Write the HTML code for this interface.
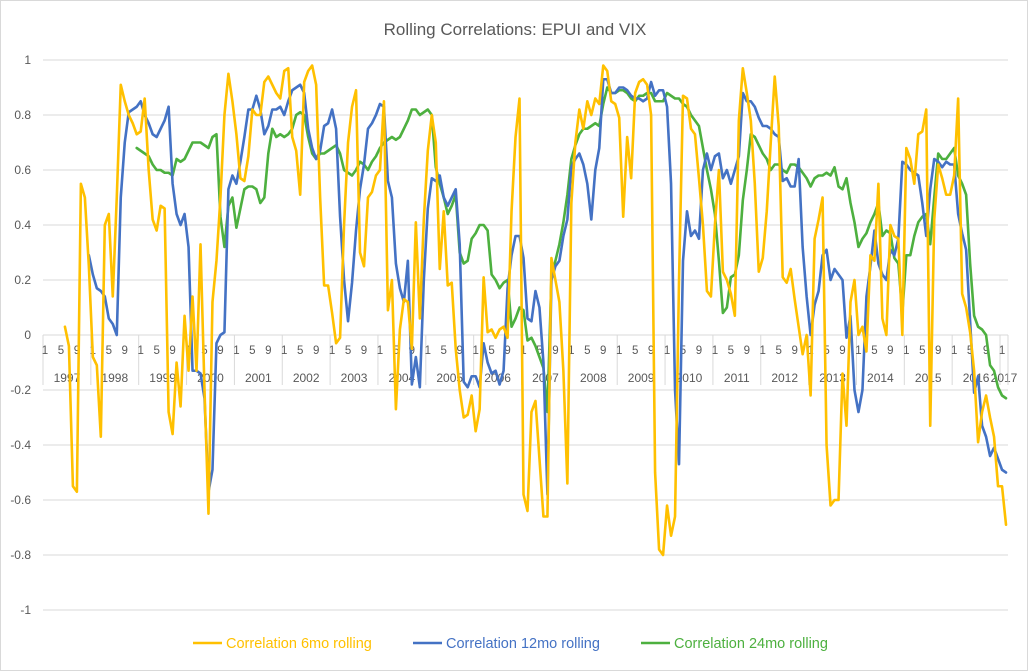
<!DOCTYPE html>
<html><head><meta charset="utf-8"><style>
html,body{margin:0;padding:0;background:#fff}
svg{display:block;font-family:"Liberation Sans",sans-serif}
</style></head><body>
<svg id="chart" width="1029" height="672" xmlns="http://www.w3.org/2000/svg">
<rect x="0.5" y="0.5" width="1027" height="670" fill="#fff" stroke="#d9d9d9"/>
<text x="515" y="35" text-anchor="middle" font-size="17" fill="#595959">Rolling Correlations: EPUI and VIX</text>
<g id="grid"></g><g id="yticks"></g><g id="xaxis"></g><g id="series"></g>
<g>
<line x1="193" y1="643" x2="222" y2="643" stroke="#FFC000" stroke-width="2.5"/>
<text x="226" y="648" font-size="14.5" fill="#FFC000">Correlation 6mo rolling</text>
<line x1="413" y1="643" x2="442" y2="643" stroke="#4472C4" stroke-width="2.5"/>
<text x="446" y="648" font-size="14.5" fill="#4472C4">Correlation 12mo rolling</text>
<line x1="641" y1="643" x2="670" y2="643" stroke="#4DB03F" stroke-width="2.5"/>
<text x="674" y="648" font-size="14.5" fill="#4DB03F">Correlation 24mo rolling</text>
</g>
</svg>
<script>
const years = [1997,1998,1999,2000,2001,2002,2003,2004,2005,2006,2007,2008,2009,2010,2011,2012,2013,2014,2015,2016,2017];
const yTicks = [1,0.8,0.6,0.4,0.2,0,-0.2,-0.4,-0.6,-0.8,-1];
const yTickLabels = ["1","0.8","0.6","0.4","0.2","0","-0.2","-0.4","-0.6","-0.8","-1"];
const monthLabels = ["1","5","9"];
const monthCount = 242;
const corr6Start = 5;
const corr6 = [0.03,-0.04,-0.55,-0.57,0.55,0.5,0.25,-0.08,-0.11,-0.37,0.4,0.44,0.14,0.5,0.91,0.85,0.8,0.77,0.73,0.74,0.86,0.6,0.42,0.38,0.47,0.46,-0.28,-0.36,-0.1,-0.26,0.07,-0.13,0.14,-0.13,0.33,
-0.2,-0.65,0.12,0.27,0.5,0.8,0.95,0.85,0.73,0.57,0.56,0.65,0.82,0.8,0.8,0.92,0.94,0.91,0.88,0.86,0.96,0.97,0.72,0.67,0.51,0.92,0.96,0.98,0.91,0.5,0.18,0.18,0.08,-0.03,-0.01,0.4,0.7,0.83,0.89,0.3,0.25,0.5,
0.52,0.58,0.6,0.85,0.09,0.2,-0.27,0.02,0.13,0.12,-0.05,0.41,0.06,0.42,0.67,0.8,0.7,0.24,0.45,0.18,0.19,-0.05,-0.2,-0.3,-0.29,-0.22,-0.35,-0.27,0.21,0.01,0.02,-0.01,0.02,0.03,-0.01,0.45,0.72,0.86,-0.58,-0.64,-0.28,-0.24,-0.45,
-0.66,-0.66,0.28,0.2,0.12,-0.13,-0.54,0.48,0.7,0.82,0.75,0.85,0.8,0.86,0.84,0.98,0.96,0.85,0.84,0.79,0.43,0.72,0.57,0.88,0.92,0.93,0.91,0.8,-0.5,-0.78,-0.8,-0.62,-0.73,-0.66,0.2,0.87,0.86,0.75,0.73,0.57,0.4,0.16,0.14,
0.4,0.6,0.23,0.2,0.15,0.07,0.78,0.97,0.88,0.78,0.55,0.23,0.28,0.45,0.7,0.94,0.76,0.21,0.19,0.24,0.13,0.03,-0.07,0.0,-0.22,0.35,0.42,0.5,-0.4,-0.62,-0.6,-0.6,-0.14,-0.33,0.12,0.2,
0.0,0.03,-0.06,0.29,0.27,0.55,0.06,0.0,0.4,0.36,0.35,0.0,0.68,0.64,0.55,0.73,0.74,0.82,-0.33,0.42,0.62,0.57,0.51,0.51,0.58,0.86,0.15,0.1,0.01,-0.13,-0.39,-0.28,-0.22,-0.3,-0.37,-0.55,-0.55,-0.69];
const corr12Start = 11;
const corr12 = [0.29,0.22,0.17,0.16,0.14,0.06,0.04,0.0,0.5,0.7,0.81,0.82,0.83,0.85,0.8,0.77,0.73,0.72,0.75,0.78,0.83,0.55,0.44,0.4,0.44,0.32,-0.13,-0.13,-0.14,
-0.23,-0.57,-0.49,-0.03,0.0,0.01,0.53,0.58,0.55,0.63,0.72,0.82,0.82,0.87,0.82,0.73,0.76,0.82,0.82,0.83,0.8,0.85,0.89,0.9,0.91,0.88,0.75,0.68,0.64,0.67,0.76,0.77,0.82,0.75,0.43,0.2,0.05,0.19,0.38,0.53,0.62,0.75,
0.77,0.8,0.84,0.83,0.56,0.5,0.26,0.17,0.12,0.27,-0.18,-0.08,-0.19,0.2,0.46,0.57,0.56,0.58,0.5,0.47,0.5,0.53,0.33,-0.17,-0.19,-0.15,-0.15,-0.19,-0.03,-0.1,-0.14,-0.13,-0.18,-0.13,0.17,0.29,0.36,0.36,0.28,0.06,0.05,0.16,0.1,
-0.1,-0.58,0.2,0.25,0.27,0.36,0.42,0.61,0.64,0.66,0.62,0.55,0.42,0.6,0.68,0.93,0.93,0.88,0.88,0.9,0.9,0.89,0.87,0.86,0.86,0.85,0.86,0.92,0.87,0.89,0.89,0.83,0.55,-0.2,-0.47,0.27,0.45,0.36,0.38,0.35,0.6,0.66,
0.6,0.65,0.66,0.57,0.6,0.55,0.6,0.65,0.88,0.85,0.85,0.83,0.79,0.76,0.76,0.75,0.73,0.72,0.56,0.57,0.54,0.54,0.64,0.32,0.14,0.0,0.11,0.16,0.29,0.31,0.2,0.24,0.22,0.2,-0.01,0.07,-0.2,
-0.28,-0.2,0.14,0.25,0.38,0.26,0.22,0.2,0.31,0.29,0.35,0.63,0.62,0.6,0.59,0.58,0.48,0.36,0.53,0.64,0.63,0.61,0.63,0.62,0.62,0.44,0.37,0.31,0.05,-0.21,-0.15,-0.33,-0.37,-0.44,-0.41,-0.45,-0.49,-0.5];
const corr24Start = 23;
const corr24 = [0.68,0.67,0.66,0.65,0.62,0.6,0.6,0.59,0.59,0.58,0.64,0.63,0.64,0.67,0.7,0.7,0.7,
0.69,0.68,0.72,0.73,0.43,0.32,0.47,0.5,0.39,0.46,0.53,0.54,0.54,0.53,0.48,0.5,0.66,0.75,0.72,0.73,0.72,0.73,0.75,0.8,0.81,0.8,0.72,0.66,0.64,0.66,0.66,0.67,0.68,0.69,0.66,0.6,0.59,0.58,0.6,0.63,0.62,0.6,
0.63,0.65,0.68,0.7,0.71,0.72,0.71,0.72,0.75,0.78,0.82,0.82,0.8,0.81,0.82,0.8,0.61,0.55,0.5,0.44,0.47,0.51,0.3,0.26,0.27,0.35,0.37,0.4,0.4,0.38,0.22,0.2,0.17,0.19,0.2,0.03,0.06,0.1,0.09,-0.02,-0.01,-0.04,-0.08,
-0.12,-0.28,0.21,0.27,0.33,0.41,0.51,0.64,0.69,0.73,0.75,0.75,0.76,0.77,0.76,0.84,0.9,0.88,0.88,0.89,0.89,0.88,0.86,0.85,0.87,0.87,0.88,0.88,0.85,0.85,0.85,0.88,0.87,0.86,0.86,0.84,0.83,0.8,0.78,0.76,0.68,0.6,
0.53,0.44,0.27,0.08,0.1,0.21,0.22,0.29,0.49,0.6,0.73,0.72,0.69,0.66,0.64,0.6,0.62,0.62,0.6,0.59,0.62,0.62,0.61,0.59,0.57,0.54,0.57,0.58,0.58,0.59,0.58,0.61,0.54,0.53,0.57,0.48,0.41,
0.32,0.35,0.37,0.41,0.44,0.48,0.36,0.38,0.37,0.28,0.26,0.08,0.29,0.29,0.36,0.41,0.43,0.44,0.33,0.5,0.66,0.64,0.64,0.66,0.68,0.58,0.55,0.51,0.26,0.07,0.03,0.02,0.0,-0.11,-0.13,-0.19,-0.22,-0.23];

const NS = "http://www.w3.org/2000/svg";
const plotL = 43, plotR = 1008, yTop = 60, yBot = 610;
const step = (plotR - plotL) / monthCount;
function xScale(i){ return plotL + (i + 0.5) * step; }
function yScale(v){ return 335 - v * 275; }
function mk(tag, attrs, parent){ const e = document.createElementNS(NS, tag); for (const k in attrs) e.setAttribute(k, attrs[k]); parent.appendChild(e); return e; }

const grid = document.getElementById('grid');
const yt = document.getElementById('yticks');
yTicks.forEach((v, k) => {
  const ln = mk('line', {x1: plotL, x2: plotR, y1: yScale(v), y2: yScale(v), stroke: '#d9d9d9', 'stroke-width': 1}, grid);
  
  
  const t = mk('text', {x: 31, y: yScale(v) + 4, 'text-anchor': 'end', 'font-size': 12, fill: '#595959'}, yt);
  t.textContent = yTickLabels[k];
  
  
});

const xa = document.getElementById('xaxis');
years.forEach((yr, k) => {
  const start = k * 12;
  const end = Math.min(start + 12, monthCount);
  const sx = plotL + start * step;
  const sep = mk('line', {x1: sx, x2: sx, y1: 335, y2: 385, stroke: '#d9d9d9', 'stroke-width': 1}, xa);
  
  
  [0, 4, 8].forEach((m, j) => {
    if (start + m >= monthCount) return;
    const t = mk('text', {x: xScale(start + m), y: 354, 'text-anchor': 'middle', 'font-size': 11.5, fill: '#595959'}, xa);
    t.textContent = monthLabels[j];
    
    
  });
  const yl = mk('text', {x: (sx + plotL + end * step) / 2, y: 382, 'text-anchor': 'middle', 'font-size': 12, fill: '#595959'}, xa);
  yl.textContent = String(yr);
  
  
});
const endSep = mk('line', {x1: plotR, x2: plotR, y1: 335, y2: 385, stroke: '#d9d9d9', 'stroke-width': 1}, xa);



const sg = document.getElementById('series');
function drawSeries(vals, start, color, name){
  const d = vals.map((v, j) => (j ? 'L' : 'M') + xScale(start + j).toFixed(2) + ' ' + yScale(v).toFixed(2)).join(' ');
  const p = mk('path', {d: d, fill: 'none', stroke: color, 'stroke-width': 2.6, 'stroke-linejoin': 'round', 'stroke-linecap': 'round'}, sg);
  
  
}
drawSeries(corr24, corr24Start, '#4DB03F', 'line-24mo');
drawSeries(corr12, corr12Start, '#4472C4', 'line-12mo');
drawSeries(corr6, corr6Start, '#FFC000', 'line-6mo');
</script>
</body></html>
